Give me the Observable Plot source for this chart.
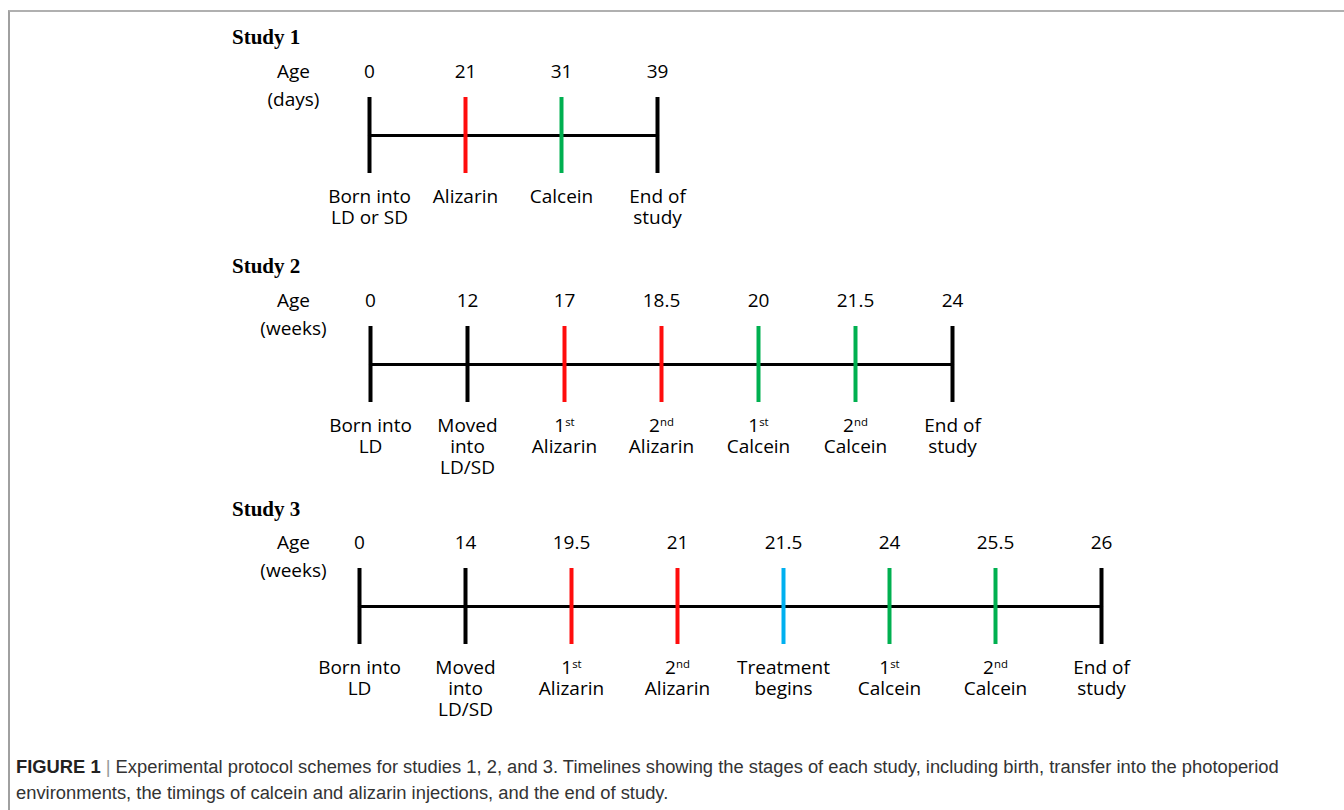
<!DOCTYPE html>
<html><head><meta charset="utf-8">
<script src="https://cdn.jsdelivr.net/npm/d3@7"></script>
<script src="https://cdn.jsdelivr.net/npm/@observablehq/plot@0.6"></script>
<style>
body{margin:0;background:#fff;}
#page{position:relative;width:1344px;height:810px;overflow:hidden;background:#fff;}
#frame{position:absolute;left:8px;top:10px;width:1340px;height:810px;border-top:2px solid #b0b0b0;border-left:2px solid #a0a0a0;}
.title{position:absolute;left:232px;font-family:"Liberation Serif",serif;font-weight:bold;font-size:21px;line-height:24px;color:#000;white-space:nowrap;}
.study{position:absolute;left:0;}
#caption{position:absolute;left:16px;top:754px;font-family:"Liberation Sans",Arial,sans-serif;font-size:18.35px;line-height:26px;color:#333;white-space:nowrap;}
#caption b{color:#222;}
</style></head>
<body><div id="page"><div id="frame"></div></div>
<script>
// ---- data ----
const study1Title = "Study 1";
const study1Unit = "days";
const study1Ages = ["0", "21", "31", "39"];
const study1Labels = ["Born into\nLD or SD", "Alizarin", "Calcein", "End of\nstudy"];
const study1Kinds = ["event", "alizarin", "calcein", "event"];

const study2Title = "Study 2";
const study2Unit = "weeks";
const study2Ages = ["0", "12", "17", "18.5", "20", "21.5", "24"];
const study2Labels = ["Born into\nLD", "Moved\ninto\nLD/SD", "1st\nAlizarin", "2nd\nAlizarin", "1st\nCalcein", "2nd\nCalcein", "End of\nstudy"];
const study2Kinds = ["event", "event", "alizarin", "alizarin", "calcein", "calcein", "event"];

const study3Title = "Study 3";
const study3Unit = "weeks";
const study3Ages = ["0", "14", "19.5", "21", "21.5", "24", "25.5", "26"];
const study3Labels = ["Born into\nLD", "Moved\ninto\nLD/SD", "1st\nAlizarin", "2nd\nAlizarin", "Treatment\nbegins", "1st\nCalcein", "2nd\nCalcein", "End of\nstudy"];
const study3Kinds = ["event", "event", "alizarin", "alizarin", "treatment", "calcein", "calcein", "event"];

const kindDomain = ["event", "alizarin", "calcein", "treatment"];
const kindColors = ["#000000", "#ff0d0d", "#00b050", "#00b0f0"];

const captionBold = "FIGURE 1";
const captionLine1 = "Experimental protocol schemes for studies 1, 2, and 3. Timelines showing the stages of each study, including birth, transfer into the photoperiod";
const captionLine2 = "environments, the timings of calcein and alizarin injections, and the end of study.";

// ---- drawing ----
const page = document.getElementById("page");
const W = 1344;

function timeline({title, unit, ages, labels, kinds, left, right, svgTop, titleTop}) {
  const rows = ages.map((age, i) => ({age, label: labels[i], kind: kinds[i]}));
  const ageX = 293;
  const plot = Plot.plot({
    width: W, height: 206,
    marginTop: 50, marginBottom: 80, marginLeft: left, marginRight: W - right,
    x: {type: "point", domain: ages, padding: 0, axis: null},
    y: {domain: [-1, 1], axis: null},
    color: {domain: kindDomain, range: kindColors},
    style: {background: "transparent", fontFamily: "'Open Sans', sans-serif", fontSize: "19px", color: "#000", overflow: "visible"},
    marks: [
      Plot.line(rows, {x: "age", y: () => 0, stroke: "#000", strokeWidth: 3}),
      Plot.ruleX(rows, {x: "age", stroke: "kind", strokeWidth: 4}),
      Plot.text(rows, {x: "age", text: "age", frameAnchor: "top", lineAnchor: "middle", dy: -26, fill: "#000"}),
      Plot.text(rows, {x: "age", text: "label", frameAnchor: "bottom", lineAnchor: "top", dy: 14, lineHeight: 1.12, fill: "#000"}),
      Plot.text(["Age"], {text: d => d, frameAnchor: "top-left", textAnchor: "middle", lineAnchor: "middle", dx: ageX - left, dy: -26, fill: "#000"}),
      Plot.text([`(${unit})`], {text: d => d, frameAnchor: "top-left", textAnchor: "middle", lineAnchor: "middle", dx: ageX - left, dy: 2, fill: "#000"})
    ]
  });
  // superscript ordinals (baseline-shift keeps following lines in place)
  d3.select(plot).selectAll("tspan").each(function() {
    const m = this.textContent.match(/^(\d)(st|nd|rd|th)$/);
    if (m) {
      const t = d3.select(this);
      t.text(m[1]);
      t.append("tspan").attr("baseline-shift", "6px").attr("font-size", "0.6em").text(m[2]);
    }
  });
  plot.classList.add("study");
  plot.style.top = svgTop + "px";
  page.appendChild(plot);
  const t = document.createElement("div");
  t.className = "title";
  t.style.top = titleTop + "px";
  t.textContent = title;
  page.appendChild(t);
}

timeline({title: study1Title, unit: study1Unit, ages: study1Ages, labels: study1Labels, kinds: study1Kinds, left: 368, right: 657, svgTop: 47, titleTop: 25});
timeline({title: study2Title, unit: study2Unit, ages: study2Ages, labels: study2Labels, kinds: study2Kinds, left: 368, right: 953, svgTop: 276, titleTop: 254});
timeline({title: study3Title, unit: study3Unit, ages: study3Ages, labels: study3Labels, kinds: study3Kinds, left: 356, right: 1104, svgTop: 518, titleTop: 497});

const cap = document.createElement("div");
cap.id = "caption";
const b = document.createElement("b");
b.textContent = captionBold;
cap.appendChild(b);
const bar = document.createElement("span");
bar.style.color = "#999";
bar.textContent = " | ";
cap.appendChild(bar);
cap.appendChild(document.createTextNode(captionLine1));
cap.appendChild(document.createElement("br"));
cap.appendChild(document.createTextNode(captionLine2));
page.appendChild(cap);
</script>
</body></html>
